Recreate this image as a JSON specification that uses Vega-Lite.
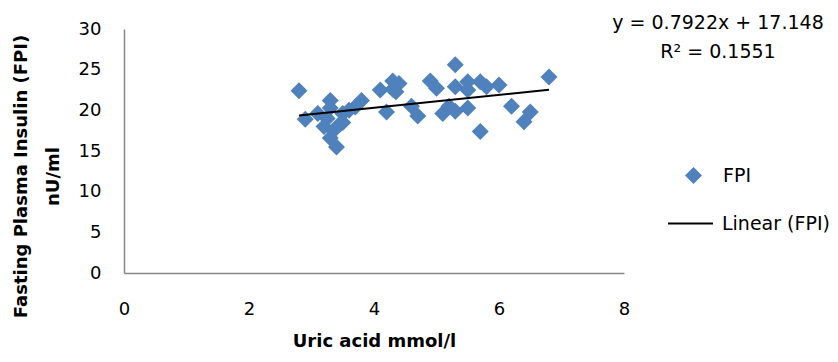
{
  "$schema": "https://vega.github.io/schema/vega-lite/v6.json",
  "width": 500,
  "height": 244,
  "autosize": {"type": "none"},
  "padding": {"left": 124, "top": 29, "right": 214, "bottom": 89},
  "background": "white",
  "config": {
    "view": {"stroke": null},
    "font": "DejaVu Sans",
    "axis": {"grid": false, "ticks": false, "labelFlush": false, "domainColor": "#868686", "domainWidth": 1.5, "labelColor": "#000000", "labelFont": "DejaVu Sans", "labelFontSize": 18, "titleFont": "DejaVu Sans", "titleFontWeight": "bold", "titleFontSize": 18, "titleColor": "#000000", "format": "d"},
    "legend": {"labelFont": "DejaVu Sans", "labelFontSize": 19, "labelColor": "#000000", "padding": 0, "title": null}
  },
  "title": {
    "text": ["y = 0.7922x + 17.148", "R² = 0.1551"],
    "orient": "top",
    "anchor": "end",
    "frame": "group",
    "align": "center",
    "dx": 94,
    "offset": -42,
    "font": "DejaVu Sans",
    "fontSize": 19,
    "fontWeight": "normal",
    "lineHeight": 29,
    "color": "#000000"
  },
  "datasets": {
    "points": [
      {"uric": 2.8, "fpi": 22.4}, {"uric": 2.9, "fpi": 18.9}, {"uric": 3.1, "fpi": 19.6}, {"uric": 3.2, "fpi": 18.0},
      {"uric": 3.25, "fpi": 19.0}, {"uric": 3.3, "fpi": 21.2}, {"uric": 3.3, "fpi": 20.3}, {"uric": 3.3, "fpi": 16.6},
      {"uric": 3.35, "fpi": 17.5}, {"uric": 3.4, "fpi": 15.5}, {"uric": 3.45, "fpi": 18.3}, {"uric": 3.5, "fpi": 19.6},
      {"uric": 3.5, "fpi": 18.5}, {"uric": 3.6, "fpi": 20.0}, {"uric": 3.7, "fpi": 20.4}, {"uric": 3.8, "fpi": 21.2},
      {"uric": 4.1, "fpi": 22.5}, {"uric": 4.2, "fpi": 19.8}, {"uric": 4.3, "fpi": 23.6}, {"uric": 4.3, "fpi": 22.6},
      {"uric": 4.4, "fpi": 23.3}, {"uric": 4.35, "fpi": 22.3}, {"uric": 4.6, "fpi": 20.5}, {"uric": 4.7, "fpi": 19.3},
      {"uric": 4.9, "fpi": 23.6}, {"uric": 5.0, "fpi": 22.7}, {"uric": 5.1, "fpi": 19.6}, {"uric": 5.2, "fpi": 20.5},
      {"uric": 5.3, "fpi": 25.6}, {"uric": 5.3, "fpi": 22.9}, {"uric": 5.3, "fpi": 19.9}, {"uric": 5.5, "fpi": 23.5},
      {"uric": 5.5, "fpi": 22.5}, {"uric": 5.5, "fpi": 20.3}, {"uric": 5.7, "fpi": 23.5}, {"uric": 5.7, "fpi": 17.4},
      {"uric": 5.8, "fpi": 22.9}, {"uric": 6.0, "fpi": 23.1}, {"uric": 6.2, "fpi": 20.5}, {"uric": 6.4, "fpi": 18.6},
      {"uric": 6.5, "fpi": 19.8}, {"uric": 6.8, "fpi": 24.1}
    ],
    "trend": [
      {"uric": 2.8, "fpi": 19.366},
      {"uric": 6.8, "fpi": 22.535}
    ]
  },
  "layer": [
    {
      "data": {"name": "points"},
      "mark": {"type": "point", "shape": "diamond", "filled": true, "size": 289, "opacity": 1, "strokeWidth": 0},
      "encoding": {
        "x": {"field": "uric", "type": "quantitative", "scale": {"domain": [0, 8], "nice": false},
              "axis": {"values": [0, 2, 4, 6, 8], "title": "Uric acid mmol/l", "labelPadding": 27, "titlePadding": 14}},
        "y": {"field": "fpi", "type": "quantitative", "scale": {"domain": [0, 30], "nice": false},
              "axis": {"values": [0, 5, 10, 15, 20, 25, 30], "title": ["Fasting Plasma Insulin (FPI)", "nU/ml"], "labelPadding": 23,
                       "titleX": -98, "titleY": 147, "titleAlign": "center", "titleBaseline": "alphabetic", "titleLineHeight": 32, "titleAngle": -90}},
        "fill": {
          "datum": "FPI",
          "scale": {"domain": ["FPI"], "range": ["#4F81BD"]},
          "legend": {"orient": "none", "legendX": 560, "legendY": 137, "symbolType": "diamond", "symbolSize": 289, "symbolStrokeWidth": 0, "labelOffset": 20}
        }
      }
    },
    {
      "data": {"name": "trend"},
      "mark": {"type": "line", "strokeWidth": 2},
      "encoding": {
        "x": {"field": "uric", "type": "quantitative"},
        "y": {"field": "fpi", "type": "quantitative"},
        "stroke": {
          "datum": "Linear (FPI)",
          "scale": {"domain": ["Linear (FPI)"], "range": ["#000000"]},
          "legend": {"orient": "none", "legendX": 543, "legendY": 171, "symbolType": "stroke", "symbolSize": 2025, "symbolStrokeWidth": 2, "labelOffset": 8}
        }
      }
    }
  ]
}
